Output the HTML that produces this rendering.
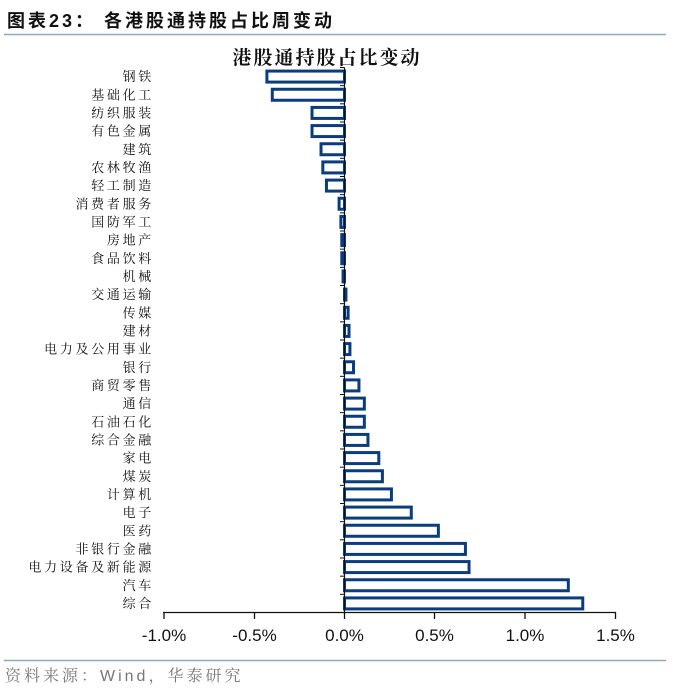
<!DOCTYPE html>
<html><head><meta charset="utf-8">
<style>
html,body{margin:0;padding:0;background:#fff;}
body{width:677px;height:698px;overflow:hidden;position:relative;}
svg{position:absolute;left:0;top:0;}
</style></head>
<body>
<svg width="677" height="698" viewBox="0 0 677 698" xmlns="http://www.w3.org/2000/svg">
<text x="7" y="27" font-family="'Liberation Sans','Noto Sans CJK SC',sans-serif" font-weight="bold" font-size="18" fill="#111" letter-spacing="3">图表23： 各港股通持股占比周变动</text>
<line x1="4" y1="34.5" x2="666" y2="34.5" stroke="#8fa8c8" stroke-width="1.5"/>
<text x="327" y="64" text-anchor="middle" font-family="'Noto Serif CJK SC','Noto Sans CJK SC',serif" font-weight="bold" font-size="19" fill="#111" letter-spacing="2">港股通持股占比变动</text>
<g id="chart"></g>
<line x1="163" y1="612.5" x2="616" y2="612.5" stroke="#111" stroke-width="1.3"/>
<g stroke="#111" stroke-width="1.3">
<line x1="164" y1="612" x2="164" y2="619"/><line x1="254.5" y1="612" x2="254.5" y2="619"/><line x1="344.5" y1="612" x2="344.5" y2="619"/><line x1="434.5" y1="612" x2="434.5" y2="619"/><line x1="525" y1="612" x2="525" y2="619"/><line x1="615.5" y1="612" x2="615.5" y2="619"/>
</g>
<g font-family="'Liberation Sans',sans-serif" font-size="17" fill="#111" text-anchor="middle">
<text x="164" y="641">-1.0%</text><text x="254.5" y="641">-0.5%</text><text x="344.5" y="641">0.0%</text><text x="434.5" y="641">0.5%</text><text x="525" y="641">1.0%</text><text x="615.5" y="641">1.5%</text>
</g>
<line x1="4" y1="660.5" x2="666" y2="660.5" stroke="#8fa8c8" stroke-width="1.5"/>
<text x="5" y="681" font-family="'Liberation Sans','Noto Serif CJK SC',sans-serif" font-size="16" fill="#777" letter-spacing="3">资料来源：Wind，华泰研究</text>
</svg>
<script>
var vals=[-0.43,-0.40,-0.18,-0.18,-0.13,-0.12,-0.10,-0.03,-0.02,-0.015,-0.015,-0.008,0.008,0.02,0.025,0.03,0.05,0.08,0.11,0.11,0.13,0.19,0.21,0.26,0.37,0.52,0.67,0.69,1.24,1.32];
var names=["钢铁","基础化工","纺织服装","有色金属","建筑","农林牧渔","轻工制造","消费者服务","国防军工","房地产","食品饮料","机械","交通运输","传媒","建材","电力及公用事业","银行","商贸零售","通信","石油石化","综合金融","家电","煤炭","计算机","电子","医药","非银行金融","电力设备及新能源","汽车","综合"];
var g=document.getElementById("chart"),h="";
var n=names.length, top0=67.5, bot=612.5, step=(bot-top0)/n, z=344.5, k=180.5;
for(var i=0;i<n;i++){
 var c=top0+step*(i+0.5), v=vals[i], x1=z, x2=z+v*k;
 var l=Math.min(x1,x2), w=Math.abs(x2-x1);
 h+='<text x="154" y="'+(c+4.5)+'" text-anchor="end" font-family="\'Noto Serif CJK SC\',\'Noto Sans CJK SC\',serif" font-size="13" fill="#111" letter-spacing="2.7">'+names[i]+'</text>';
 h+='<rect x="'+l+'" y="'+(c-5.5)+'" width="'+Math.max(w,0.5)+'" height="11" fill="#fff" stroke="#0a3d7f" stroke-width="3"/>';
 h+='<line x1="340" x2="344.5" y1="'+(top0+step*i)+'" y2="'+(top0+step*i)+'" stroke="#111" stroke-width="1"/>';
}
h+='<line x1="344.5" x2="344.5" y1="'+top0+'" y2="612.5" stroke="#111" stroke-width="1.2"/>';
g.innerHTML=h;
</script>
</body></html>
